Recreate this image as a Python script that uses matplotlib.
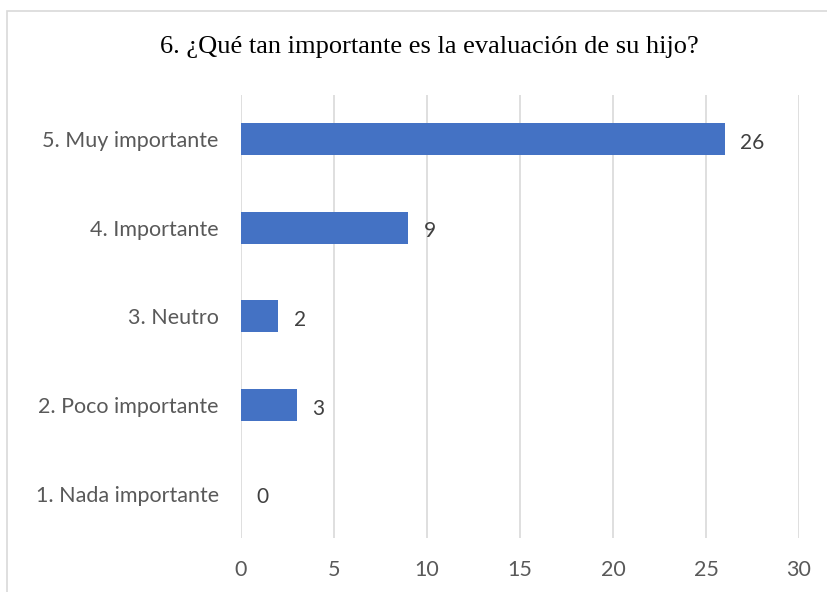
import numpy as np
import matplotlib
matplotlib.use('agg')
import matplotlib.pyplot as plt
from matplotlib.patches import Rectangle

categories = ['1. Nada importante', '2. Poco importante', '3. Neutro',
              '4. Importante', '5. Muy importante']
counts = [0, 3, 2, 9, 26]
xticks = [0, 5, 10, 15, 20, 25, 30]
title = '6. ¿Qué tan importante es la evaluación de su hijo?'

fig = plt.figure(figsize=(8.28, 5.92), dpi=100)
ax = fig.add_axes([0.291, 0.091, 0.674, 0.749])

# light border around the chart area
fig.patches.append(Rectangle((7 / 828, -0.1), 1.2, (592 - 11) / 592 + 0.1,
                             transform=fig.transFigure, fill=False,
                             edgecolor='#d9d9d9', linewidth=1.2))

ypos = np.arange(len(categories))
ax.barh(ypos, counts, height=0.36, color='#4472C4', zorder=3)
for y, v in zip(ypos, counts):
    ax.text(v + 0.85, y - 0.04, str(v), va='center', ha='left',
            fontsize=15, color='#404040', family='Lato')

ax.set_xlim(0, 30)
ax.set_ylim(-0.5, len(categories) - 0.5)
ax.set_xticks(xticks)
ax.set_yticks(ypos)
ax.set_yticklabels(categories)
ax.grid(axis='x', color='#d9d9d9', linewidth=1.2, zorder=0)
ax.tick_params(length=0, labelsize=15.5, colors='#595959')
ax.tick_params(axis='y', pad=16)
ax.tick_params(axis='x', pad=16)
for lbl in ax.get_xticklabels() + ax.get_yticklabels():
    lbl.set_family('Lato')
for s in ax.spines.values():
    s.set_visible(False)

fig.text(0.518, 0.92, title, ha='center', va='center', fontsize=19,
         family='Liberation Serif', color='black')

plt.savefig('out.png', dpi=100)
plt.close()
